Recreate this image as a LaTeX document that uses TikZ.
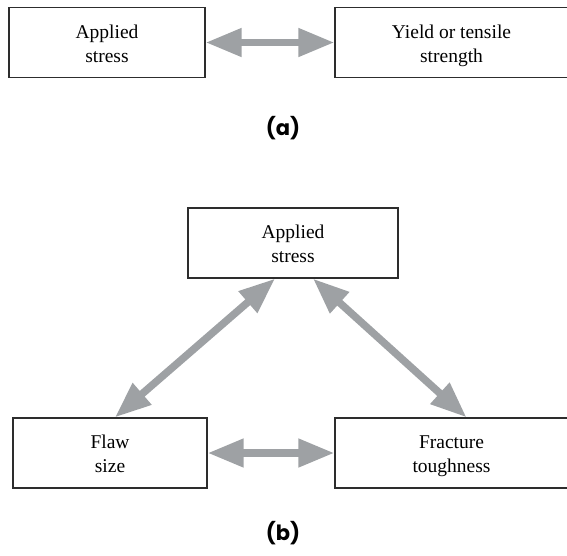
\documentclass[tikz,border=0pt]{standalone}
\usepackage{fontspec}
\setmainfont{Liberation Serif}
\newfontfamily\labelfont{Poppins}
\usepackage{xcolor}
\usetikzlibrary{arrows.meta}
\definecolor{arrowgray}{RGB}{158,161,164}
\definecolor{boxgray}{RGB}{45,45,45}

\begin{document}
\begin{tikzpicture}[
  x=1pt,y=-1pt,
  every node/.style={font=\fontsize{19.5}{24}\selectfont},
  quant/.style={draw=boxgray,line width=1.3pt,minimum height=70pt,
                align=center,inner sep=0pt},
  words/.style={align=center,inner sep=0pt,yshift=-3pt},
  link/.style={draw=arrowgray,line width=7.5pt,
               {Triangle[length=36pt,width=27pt]}-{Triangle[length=36pt,width=27pt]}},
  caption/.style={font=\labelfont\bfseries\fontsize{21}{24}\selectfont},
]
\useasboundingbox (0,0) rectangle (567,555);
% (a)
\node[quant,minimum width=196pt] (stressa) at (107,42.5) {};
\node[words] (stressa-t) at (stressa) {\strut Applied\\\strut stress};
\node[quant,minimum width=233pt] (yield) at (451.5,42.5) {};
\node[words] (yield-t) at (yield) {\strut Yield or tensile\\\strut strength};
\draw[link] (stressa.east) -- (yield.west);
\node[caption] (capa) at (283,128) {(a)};
% (b)
\node[quant,minimum width=210pt] (stressb) at (293,243) {};
\node[words] (stressb-t) at (stressb) {\strut Applied\\\strut stress};
\node[quant,minimum width=194pt] (flaw) at (110,453) {};
\node[words] (flaw-t) at (flaw) {\strut Flaw\\\strut size};
\node[quant,minimum width=233pt] (tough) at (451.5,453) {};
\node[words] (tough-t) at (tough) {\strut Fracture\\\strut toughness};
\draw[link] (flaw.east) -- (tough.west);
\draw[link] ([xshift=5pt]flaw.north) -- ([xshift=-18pt]stressb.south);
\draw[link] ([xshift=20pt]stressb.south) -- ([xshift=15pt]tough.north);
\node[caption] (capb) at (283,533) {(b)};
\end{tikzpicture}
\end{document}
